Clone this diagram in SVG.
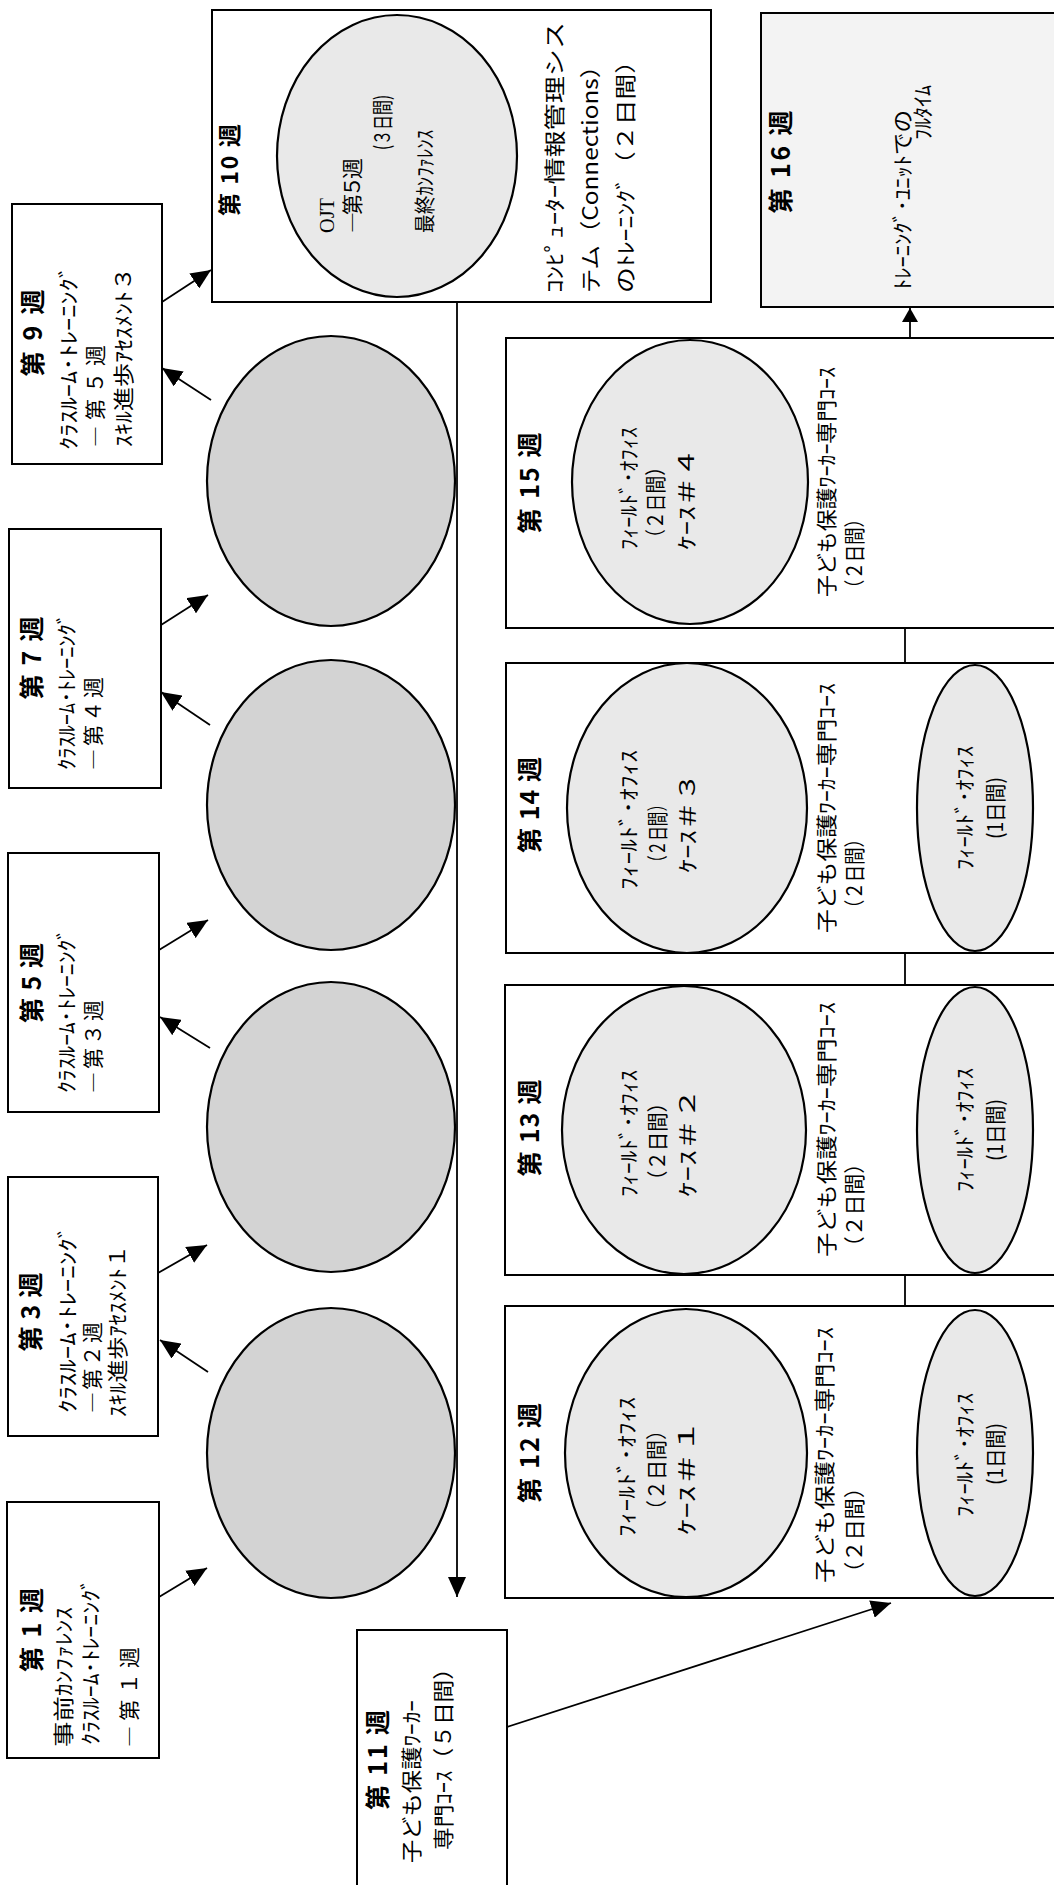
<svg xmlns="http://www.w3.org/2000/svg" width="1054" height="1885" viewBox="0 0 1054 1885">
<defs>
<marker id="ah" markerUnits="userSpaceOnUse" markerWidth="22" markerHeight="18" refX="20" refY="9" orient="auto"><path d="M0,0 L20,9 L0,18 z" fill="#000"/></marker>
<marker id="ahs" markerUnits="userSpaceOnUse" markerWidth="16" markerHeight="16" refX="14" refY="8" orient="auto"><path d="M0,0 L14,8 L0,16 z" fill="#000"/></marker>
</defs>
<style>
.box{fill:#fff;stroke:#000;stroke-width:2}
.dk{fill:#d3d3d3;stroke:#000;stroke-width:2.2}
.lt{fill:#e9e9e9;stroke:#000;stroke-width:2.2}
.ln{stroke:#000;stroke-width:1.8;fill:none}
text{font-family:"Noto Sans CJK JP","Noto Sans",sans-serif;dominant-baseline:central;fill:#000}
.t{font-size:25px;font-weight:bold;text-anchor:middle}
.s{font-size:21px}
.m{text-anchor:middle}
.sf{font-family:"Liberation Serif","Noto Sans CJK JP",serif}
</style>
<rect width="1054" height="1885" fill="#fff"/>

<g id="week1">
<rect class="box" x="7" y="1502" width="152" height="256"/>
<text class="t" transform="translate(29.5 1630) rotate(-90)" textLength="84" lengthAdjust="spacing">第 1 週</text>
<text class="s" transform="translate(62 1747) rotate(-90)" textLength="140" lengthAdjust="spacingAndGlyphs">事前ｶﾝﾌｧﾚﾝｽ</text>
<text class="s" transform="translate(89 1745) rotate(-90)" textLength="167" lengthAdjust="spacingAndGlyphs">ｸﾗｽﾙｰﾑ･ﾄﾚｰﾆﾝｸﾞ</text>
<text class="s" transform="translate(128 1747) rotate(-90)" textLength="100" lengthAdjust="spacing">―第１週</text>
</g>

<g id="week3">
<rect class="box" x="8" y="1177" width="150" height="259"/>
<text class="t" transform="translate(28.5 1312) rotate(-90)" textLength="79" lengthAdjust="spacing">第 3 週</text>
<text class="s" transform="translate(66 1413) rotate(-90)" textLength="188" lengthAdjust="spacingAndGlyphs">ｸﾗｽﾙｰﾑ･ﾄﾚｰﾆﾝｸﾞ</text>
<text class="s" transform="translate(91 1413) rotate(-90)" textLength="91" lengthAdjust="spacing">―第２週</text>
<text class="s" transform="translate(116 1417) rotate(-90)" textLength="172" lengthAdjust="spacingAndGlyphs">ｽｷﾙ進歩ｱｾｽﾒﾝﾄ１</text>
</g>

<g id="week5">
<rect class="box" x="8" y="853" width="151" height="259"/>
<text class="t" transform="translate(29.5 983) rotate(-90)" textLength="80" lengthAdjust="spacing">第 5 週</text>
<text class="s" transform="translate(65 1093) rotate(-90)" textLength="165" lengthAdjust="spacingAndGlyphs">ｸﾗｽﾙｰﾑ･ﾄﾚｰﾆﾝｸﾞ</text>
<text class="s" transform="translate(92 1093) rotate(-90)" textLength="93" lengthAdjust="spacing">―第３週</text>
</g>

<g id="week7">
<rect class="box" x="9" y="529" width="152" height="259"/>
<text class="t" transform="translate(30 658) rotate(-90)" textLength="83" lengthAdjust="spacing">第 7 週</text>
<text class="s" transform="translate(65 770) rotate(-90)" textLength="157" lengthAdjust="spacingAndGlyphs">ｸﾗｽﾙｰﾑ･ﾄﾚｰﾆﾝｸﾞ</text>
<text class="s" transform="translate(92 770) rotate(-90)" textLength="93" lengthAdjust="spacing">―第４週</text>
</g>

<g id="week9">
<rect class="box" x="12" y="204" width="150" height="260"/>
<text class="t" transform="translate(30.5 333) rotate(-90)" textLength="87" lengthAdjust="spacing">第 9 週</text>
<text class="s" transform="translate(67 450) rotate(-90)" textLength="185" lengthAdjust="spacingAndGlyphs">ｸﾗｽﾙｰﾑ･ﾄﾚｰﾆﾝｸﾞ</text>
<text class="s" transform="translate(94 447) rotate(-90)" textLength="102" lengthAdjust="spacing">―第５週</text>
<text class="s" transform="translate(122 447) rotate(-90)" textLength="180" lengthAdjust="spacingAndGlyphs">ｽｷﾙ進歩ｱｾｽﾒﾝﾄ３</text>
</g>

<g id="week2"><ellipse class="dk" cx="331" cy="1453" rx="124" ry="145"/></g>
<g id="week4"><ellipse class="dk" cx="331" cy="1127" rx="124" ry="145"/></g>
<g id="week6"><ellipse class="dk" cx="331" cy="805" rx="124" ry="145"/></g>
<g id="week8"><ellipse class="dk" cx="331" cy="481" rx="124" ry="145"/></g>

<g id="week10">
<rect class="box" x="212" y="10" width="499" height="292"/>
<ellipse class="lt" cx="397" cy="156" rx="120" ry="141"/>
<text class="t" transform="translate(228 170) rotate(-90)" textLength="92" lengthAdjust="spacing" style="font-size:23px">第 10 週</text>
<text class="s sf" transform="translate(327 233) rotate(-90)" textLength="35" lengthAdjust="spacingAndGlyphs">OJT</text>
<text class="s" transform="translate(351 233) rotate(-90)" textLength="75" lengthAdjust="spacing">―第５週</text>
<text class="s" transform="translate(381 150) rotate(-90)" textLength="55" lengthAdjust="spacingAndGlyphs">(３日間)</text>
<text class="s" transform="translate(423 233) rotate(-90)" textLength="103" lengthAdjust="spacingAndGlyphs">最終ｶﾝﾌｧﾚﾝｽ</text>
<text class="s" transform="translate(553 293) rotate(-90)" textLength="271" lengthAdjust="spacingAndGlyphs">ｺﾝﾋﾟｭｰﾀｰ情報管理シス</text>
<text class="s" transform="translate(589 293) rotate(-90)" textLength="239" lengthAdjust="spacingAndGlyphs">テム（Connections）</text>
<text class="s" transform="translate(624 293) rotate(-90)" textLength="245" lengthAdjust="spacingAndGlyphs">のﾄﾚｰﾆﾝｸﾞ（２日間）</text>
</g>

<g id="week11">
<rect class="box" x="357" y="1630" width="150" height="270"/>
<text class="t" transform="translate(376 1760) rotate(-90)" textLength="100" lengthAdjust="spacing">第 11 週</text>
<text class="s" transform="translate(410 1863) rotate(-90)" textLength="163" lengthAdjust="spacingAndGlyphs">子ども保護ﾜｰｶｰ</text>
<text class="s" transform="translate(442 1850) rotate(-90)" textLength="193" lengthAdjust="spacingAndGlyphs">専門ｺｰｽ（５日間）</text>
</g>

<g id="week12">
<rect class="box" x="505" y="1306" width="560" height="292"/>
<ellipse class="lt" cx="686" cy="1453" rx="121" ry="144"/>
<ellipse class="lt" cx="975" cy="1453" rx="58" ry="143"/>
<text class="t" transform="translate(528 1453) rotate(-90)" textLength="100" lengthAdjust="spacing">第 12 週</text>
<text class="s" transform="translate(625 1537) rotate(-90)" textLength="140" lengthAdjust="spacingAndGlyphs">ﾌｨｰﾙﾄﾞ･ｵﾌｨｽ</text>
<text class="s" transform="translate(655 1520) rotate(-90)" textLength="100" lengthAdjust="spacingAndGlyphs">（２日間）</text>
<text class="s" transform="translate(685 1535) rotate(-90)" textLength="115" lengthAdjust="spacingAndGlyphs">ｹｰｽ＃１</text>
<text class="s" transform="translate(823 1583) rotate(-90)" textLength="256" lengthAdjust="spacingAndGlyphs">子ども保護ﾜｰｶｰ専門ｺｰｽ</text>
<text class="s" transform="translate(853 1583) rotate(-90)" textLength="106" lengthAdjust="spacingAndGlyphs">（２日間）</text>
<text class="s m" transform="translate(963 1455) rotate(-90)" textLength="124" lengthAdjust="spacingAndGlyphs">ﾌｨｰﾙﾄﾞ･ｵﾌｨｽ</text>
<text class="s m" transform="translate(994 1454) rotate(-90)" textLength="62" lengthAdjust="spacingAndGlyphs">(1日間)</text>
</g>

<g id="week13">
<rect class="box" x="505" y="985" width="560" height="290"/>
<ellipse class="lt" cx="684" cy="1130" rx="122" ry="144"/>
<ellipse class="lt" cx="975" cy="1130" rx="58" ry="143"/>
<text class="t" transform="translate(528 1128) rotate(-90)" textLength="97" lengthAdjust="spacing">第 13 週</text>
<text class="s" transform="translate(627 1197) rotate(-90)" textLength="127" lengthAdjust="spacingAndGlyphs">ﾌｨｰﾙﾄﾞ･ｵﾌｨｽ</text>
<text class="s" transform="translate(656 1190) rotate(-90)" textLength="97" lengthAdjust="spacingAndGlyphs">（２日間）</text>
<text class="s" transform="translate(686 1197) rotate(-90)" textLength="109" lengthAdjust="spacingAndGlyphs">ｹｰｽ＃２</text>
<text class="s" transform="translate(825 1257) rotate(-90)" textLength="255" lengthAdjust="spacingAndGlyphs">子ども保護ﾜｰｶｰ専門ｺｰｽ</text>
<text class="s" transform="translate(853 1257) rotate(-90)" textLength="104" lengthAdjust="spacingAndGlyphs">（２日間）</text>
<text class="s m" transform="translate(963 1130) rotate(-90)" textLength="124" lengthAdjust="spacingAndGlyphs">ﾌｨｰﾙﾄﾞ･ｵﾌｨｽ</text>
<text class="s m" transform="translate(994 1130) rotate(-90)" textLength="62" lengthAdjust="spacingAndGlyphs">(1日間)</text>
</g>

<g id="week14">
<rect class="box" x="506" y="663" width="560" height="290"/>
<ellipse class="lt" cx="687" cy="808" rx="120" ry="145"/>
<ellipse class="lt" cx="975" cy="808" rx="58" ry="143"/>
<text class="t" transform="translate(528 805) rotate(-90)" textLength="96" lengthAdjust="spacing">第 14 週</text>
<text class="s" transform="translate(627 890) rotate(-90)" textLength="140" lengthAdjust="spacingAndGlyphs">ﾌｨｰﾙﾄﾞ･ｵﾌｨｽ</text>
<text class="s" transform="translate(656 870) rotate(-90)" textLength="73" lengthAdjust="spacingAndGlyphs">（２日間）</text>
<text class="s" transform="translate(686 873) rotate(-90)" textLength="100" lengthAdjust="spacingAndGlyphs">ｹｰｽ＃３</text>
<text class="s" transform="translate(825 933) rotate(-90)" textLength="250" lengthAdjust="spacingAndGlyphs">子ども保護ﾜｰｶｰ専門ｺｰｽ</text>
<text class="s" transform="translate(853 917) rotate(-90)" textLength="87" lengthAdjust="spacingAndGlyphs">（２日間）</text>
<text class="s m" transform="translate(963 808) rotate(-90)" textLength="124" lengthAdjust="spacingAndGlyphs">ﾌｨｰﾙﾄﾞ･ｵﾌｨｽ</text>
<text class="s m" transform="translate(994 808) rotate(-90)" textLength="62" lengthAdjust="spacingAndGlyphs">(1日間)</text>
</g>

<g id="week15">
<rect class="box" x="506" y="338" width="560" height="290"/>
<ellipse class="lt" cx="690" cy="482" rx="118" ry="142"/>
<text class="t" transform="translate(528 483) rotate(-90)" textLength="101" lengthAdjust="spacing">第 15 週</text>
<text class="s" transform="translate(627 550) rotate(-90)" textLength="123" lengthAdjust="spacingAndGlyphs">ﾌｨｰﾙﾄﾞ･ｵﾌｨｽ</text>
<text class="s" transform="translate(654 547) rotate(-90)" textLength="89" lengthAdjust="spacingAndGlyphs">（２日間）</text>
<text class="s" transform="translate(685 550) rotate(-90)" textLength="102" lengthAdjust="spacingAndGlyphs">ｹｰｽ＃４</text>
<text class="s" transform="translate(825 597) rotate(-90)" textLength="230" lengthAdjust="spacingAndGlyphs">子ども保護ﾜｰｶｰ専門ｺｰｽ</text>
<text class="s" transform="translate(853 597) rotate(-90)" textLength="87" lengthAdjust="spacingAndGlyphs">（２日間）</text>
</g>

<g id="week16">
<rect x="761" y="13" width="300" height="294" fill="#f3f3f3" stroke="#000" stroke-width="2"/>
<text class="t" transform="translate(779 162) rotate(-90)" textLength="103" lengthAdjust="spacing">第 16 週</text>
<text class="s" transform="translate(901 290) rotate(-90)" textLength="180" lengthAdjust="spacingAndGlyphs">ﾄﾚｰﾆﾝｸﾞ･ﾕﾆｯﾄでの</text>
<text class="s" transform="translate(921 140) rotate(-90)" textLength="55" lengthAdjust="spacingAndGlyphs">ﾌﾙﾀｲﾑ</text>
</g>

<g id="connectors">
<line class="ln" x1="159" y1="1597" x2="207" y2="1568" marker-end="url(#ah)"/>
<line class="ln" x1="208" y1="1372" x2="160" y2="1340" marker-end="url(#ah)"/>
<line class="ln" x1="158" y1="1273" x2="207" y2="1245" marker-end="url(#ah)"/>
<line class="ln" x1="210" y1="1048" x2="160" y2="1017" marker-end="url(#ah)"/>
<line class="ln" x1="159" y1="950" x2="208" y2="920" marker-end="url(#ah)"/>
<line class="ln" x1="210" y1="725" x2="161" y2="692" marker-end="url(#ah)"/>
<line class="ln" x1="161" y1="625" x2="208" y2="595" marker-end="url(#ah)"/>
<line class="ln" x1="211" y1="400" x2="162" y2="368" marker-end="url(#ah)"/>
<line class="ln" x1="162" y1="302" x2="211" y2="270" marker-end="url(#ah)"/>
<line class="ln" x1="457" y1="302" x2="457" y2="1597" marker-end="url(#ah)"/>
<line class="ln" x1="507" y1="1727" x2="891" y2="1603" marker-end="url(#ah)"/>
<line class="ln" x1="905" y1="1275" x2="905" y2="1306"/>
<line class="ln" x1="905" y1="953" x2="905" y2="985"/>
<line class="ln" x1="905" y1="628" x2="905" y2="663"/>
<line class="ln" x1="910" y1="338" x2="910" y2="308" marker-end="url(#ahs)"/>
</g>
</svg>
